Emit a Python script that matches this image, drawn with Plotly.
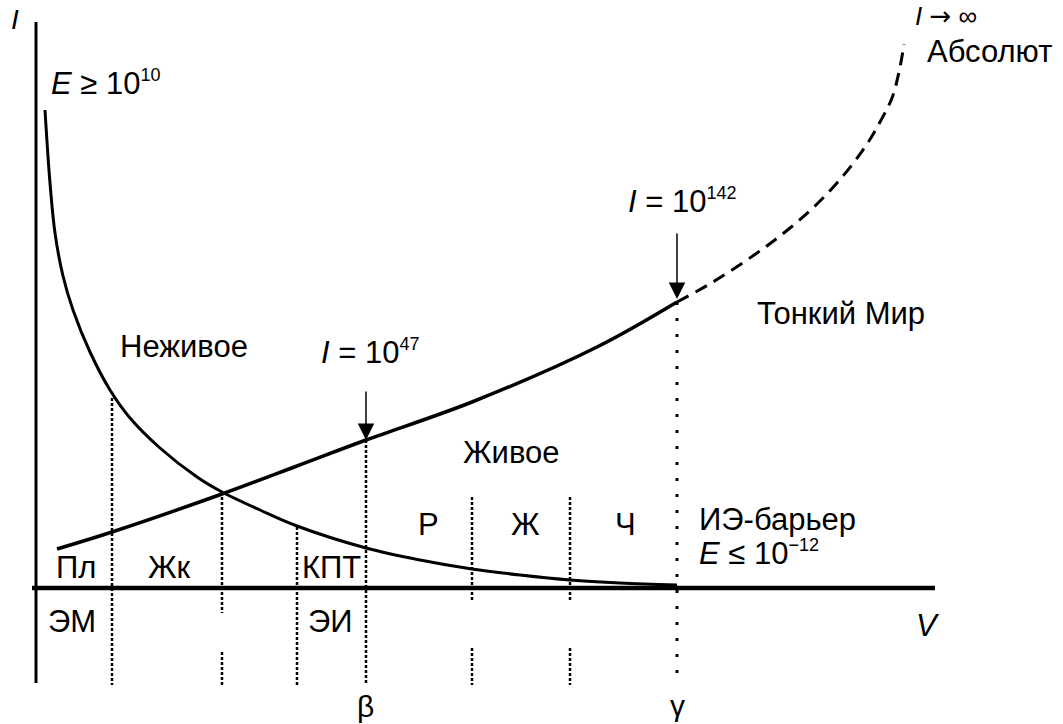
import plotly.graph_objects as go

# Кривая E (убывающая): V, I
e_v = [9, 14, 19, 27, 37, 54, 74, 94, 124, 161, 186, 224, 261, 330, 384, 436, 484, 534, 584, 641]
e_i = [478, 405, 355, 312, 278, 236, 198, 170, 140, 111, 96, 78, 62, 40, 28, 19, 13, 8, 5, 3]

# Кривая I (возрастающая), сплошная часть
i_v = [21, 76, 186, 261, 330, 436, 561, 641]
i_i = [39, 56, 94, 122, 148, 186, 241, 286]

# пунктирное продолжение к Абсолюту
d_v = [641, 677, 721, 754, 781, 807, 829, 844, 856, 863, 868]
d_i = [286, 306, 335, 360, 384, 412, 441, 466, 490, 516, 544]

# вертикальные границы зон: положение, верх, разрыв
bounds_v = [76, 186, 261, 330, 436, 534]
bounds_top = [190, 96, 61, 148, 91, 91]
bounds_gap = [None, (-25, -64), None, None, (-12, -60), (-12, -60)]
bounds_bottom = -97
gamma_v = 641
gamma_top = 286

# оси
v_axis_top = 566
v_axis_bottom = -95
h_axis_right = 899

fig = go.Figure()

fig.add_trace(go.Scatter(x=e_v, y=e_i, mode="lines",
                         line=dict(color="black", width=3, shape="spline", smoothing=1),
                         hoverinfo="skip"))
fig.add_trace(go.Scatter(x=i_v, y=i_i, mode="lines",
                         line=dict(color="black", width=3.5, shape="spline", smoothing=1),
                         hoverinfo="skip"))
fig.add_trace(go.Scatter(x=d_v, y=d_i, mode="lines",
                         line=dict(color="black", width=3, shape="spline", smoothing=1,
                                   dash="13px,8px"),
                         hoverinfo="skip"))

# пунктирные вертикали
bx, by = [], []
for v, top, gap in zip(bounds_v, bounds_top, bounds_gap):
    if gap is None:
        bx += [v, v, None]
        by += [top, bounds_bottom, None]
    else:
        bx += [v, v, None, v, v, None]
        by += [top, gap[0], None, gap[1], bounds_bottom, None]
fig.add_trace(go.Scatter(x=bx, y=by, mode="lines",
                         line=dict(color="black", width=2.5, dash="3px,2px"),
                         hoverinfo="skip"))
fig.add_trace(go.Scatter(x=[gamma_v, gamma_v], y=[gamma_top, bounds_bottom], mode="lines",
                         line=dict(color="black", width=3, dash="3px,13px"),
                         hoverinfo="skip"))

# оси
fig.add_shape(type="line", x0=0, x1=0, y0=v_axis_bottom, y1=v_axis_top,
              line=dict(color="black", width=3))
fig.add_shape(type="line", x0=-4, x1=h_axis_right, y0=0, y1=0,
              line=dict(color="black", width=4.5))

font = dict(family="Liberation Sans, Arial, sans-serif", size=31, color="black")
arrow_sym = '<span style="font-family:DejaVu Sans">→</span>'


def sup(s):
    return '<sup><span style="font-size:18px">' + s + "</span></sup>"


labels = [
    ("<i>I</i>", -21, 569, "center", 28),
    ("<i>E</i> ≥ 10" + sup("10"), 13, 505, "left", 31),
    ("<i>I</i> " + arrow_sym + " ∞", 877, 572, "left", 26),
    ("Абсолют", 889, 537, "left", 31),
    ("Неживое", 148, 242, "center", 31),
    ("Живое", 475, 136, "center", 31),
    ("Тонкий Мир", 805, 275, "center", 31),
    ("<i>I</i> = 10" + sup("47"), 334, 236, "center", 31),
    ("<i>I</i> = 10" + sup("142"), 646, 387, "center", 31),
    ("Пл", 40, 21, "center", 31),
    ("Жк", 133, 21, "center", 31),
    ("КПТ", 295, 21, "center", 31),
    ("ЭМ", 36, -33, "center", 31),
    ("ЭИ", 294, -33, "center", 31),
    ("Р", 392, 64, "center", 31),
    ("Ж", 489, 64, "center", 31),
    ("Ч", 589, 64, "center", 31),
    ("ИЭ-барьер", 661, 69, "left", 31),
    ("<i>E</i> ≤ 10" + sup("−12"), 661, 35, "left", 31),
    ("<i>V</i>", 892, -37, "center", 31),
    ("β", 329, -118, "center", 30),
    ("γ", 641, -117, "center", 30),
]
for text, x, y, anchor, size in labels:
    fig.add_annotation(x=x, y=y, text=text, showarrow=False, xanchor=anchor,
                       yanchor="middle", font=dict(font, size=size))

# стрелки к кривой I
arrows = [(330, 148, 198), (641, 289, 356)]
for v, tip, tail in arrows:
    fig.add_annotation(x=v, y=tip, ax=v, ay=tail, axref="x", ayref="y", text="",
                       showarrow=True, arrowhead=2, arrowsize=2.2, arrowwidth=1.5,
                       arrowcolor="black", standoff=0)

fig.update_layout(
    width=1063, height=724,
    margin=dict(l=0, r=0, t=0, b=0),
    paper_bgcolor="white", plot_bgcolor="white",
    showlegend=False,
    xaxis=dict(range=[-36, 1027], visible=False, fixedrange=True),
    yaxis=dict(range=[-136, 588], visible=False, fixedrange=True),
)

# убрать стандартный отступ body, чтобы картинка легла с (0, 0)
fig.write_html("out.html", config={"displayModeBar": False},
               post_script="document.body.style.margin='0';")
